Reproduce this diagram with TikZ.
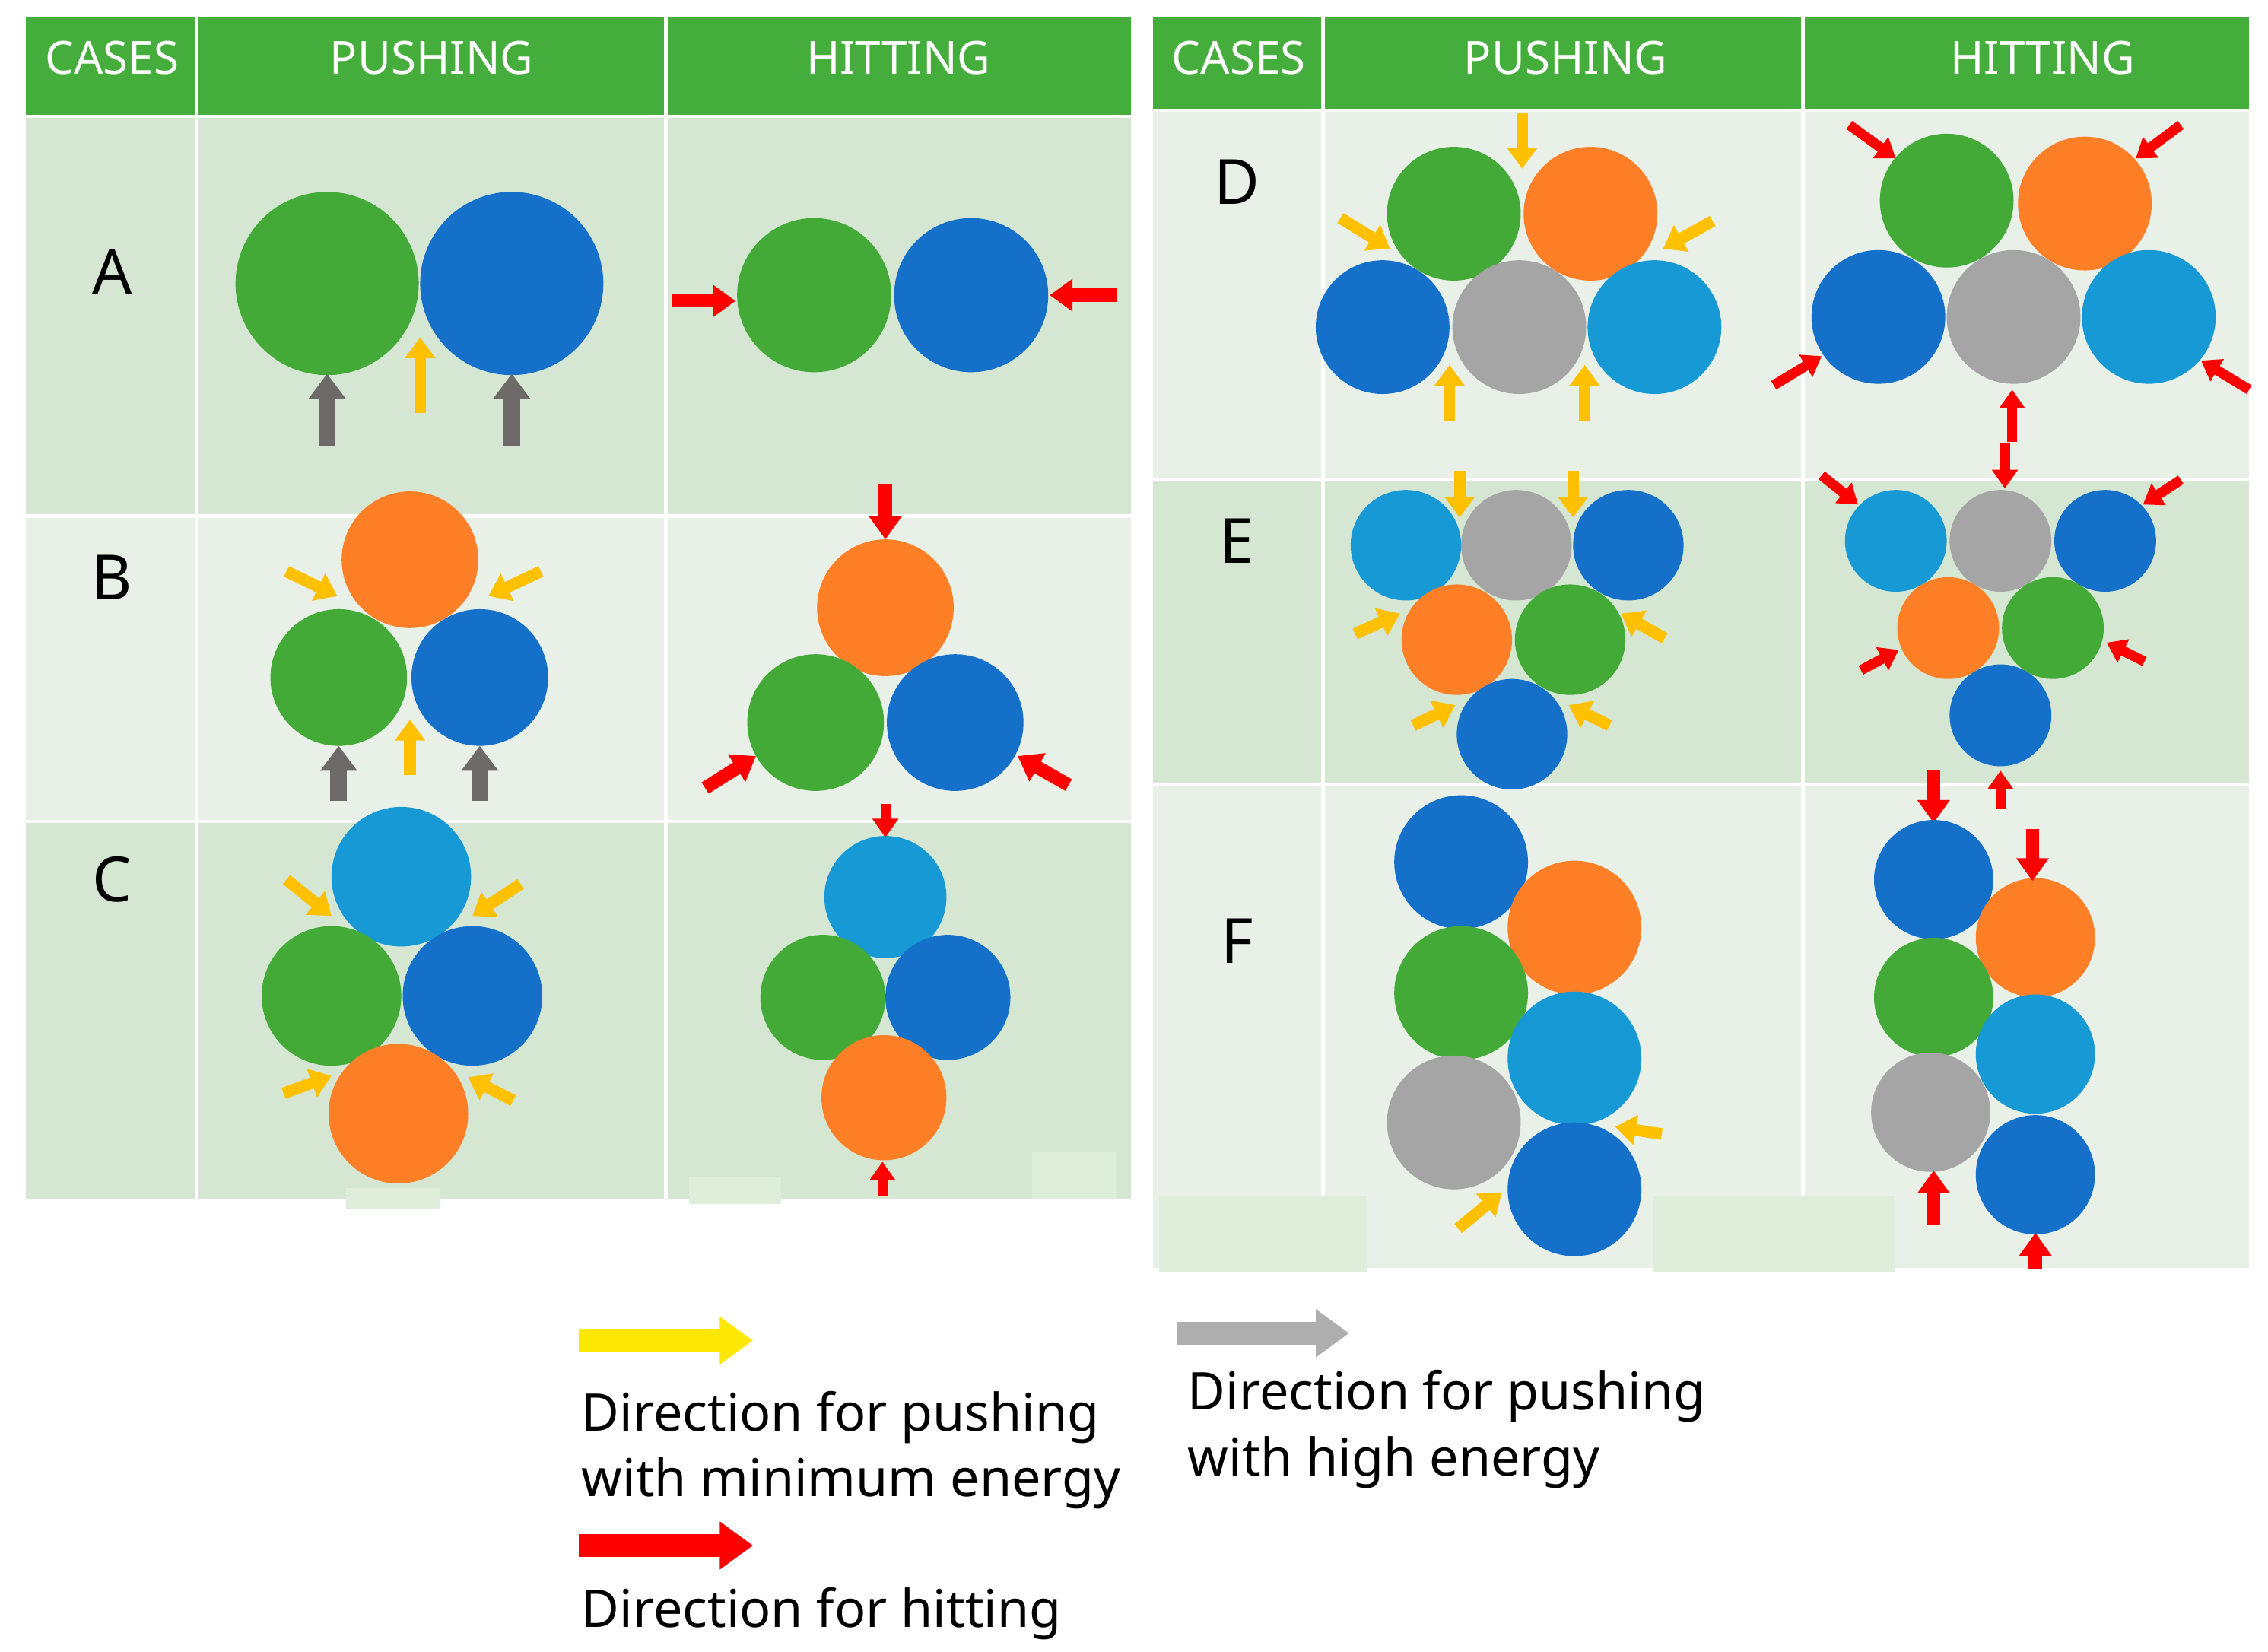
\documentclass[tikz,border=0pt]{standalone}
\usepackage{fontspec}
\setmainfont{Noto Sans}
\usetikzlibrary{arrows.meta}
\definecolor{hg}{RGB}{68,173,60}
\definecolor{rd}{RGB}{213,230,211}
\definecolor{rl}{RGB}{232,240,232}
\definecolor{pp}{RGB}{222,238,218}
\definecolor{cg}{RGB}{67,170,56}
\definecolor{cb}{RGB}{20,112,200}
\definecolor{co}{RGB}{255,127,39}
\definecolor{cl}{RGB}{23,153,214}
\definecolor{cy}{RGB}{165,165,165}
\definecolor{ay}{RGB}{255,192,0}
\definecolor{ag}{RGB}{110,106,106}
\definecolor{ar}{RGB}{255,0,0}
\newcommand\Ball[5]{\node[circle,fill=#2,minimum size=#3*0.7pt,inner sep=0pt] (#1) at (#4,#5) {};}
\newcommand\Arr[5]{\draw[#1] (#2,#3) -- (#4,#5);}
\tikzset{
 ya/.style={ay,line width=2.8pt,-{Triangle[length=5pt,width=7pt]}},
 ga/.style={ag,line width=4pt,-{Triangle[length=6pt,width=8.5pt]}},
 ra/.style={ar,line width=3.2pt,-{Triangle[length=5.5pt,width=7.5pt]}},
 rs/.style={ar,line width=2.4pt,-{Triangle[length=4.5pt,width=6pt]}},
 hd/.style={white,font=\bfseries\fontsize{11}{13}\selectfont},
 cs/.style={font=\bfseries\fontsize{15}{17}\selectfont},
 lg/.style={anchor=west,font=\fontsize{12.5}{15}\selectfont},
 sep/.style={white,line width=0.8pt}
}
\begin{document}
\begin{tikzpicture}[x=0.35pt,y=-0.35pt]
\useasboundingbox (0,0) rectangle (1560,1136);
% left table
\fill[hg] (18,12) rectangle (778,80);
\fill[rd] (18,80) rectangle (778,355);
\fill[rl] (18,355) rectangle (778,565);
\fill[rd] (18,565) rectangle (778,825);
\foreach \x in {135,458} \draw[sep] (\x,12) -- (\x,825);
\foreach \y in {80,355,565} \draw[sep] (18,\y) -- (778,\y);
\fill[pp] (238,817) rectangle (303,832);
\fill[pp] (474,810) rectangle (537,828);
\fill[pp] (710,792) rectangle (768,825);
\node[hd] (h1) at (77,40) {CASES};
\node[hd] (h2) at (297,40) {PUSHING};
\node[hd] (h3) at (618,40) {HITTING};
\node[cs] (lA) at (77,187) {A};
\node[cs] (lB) at (77,397) {B};
\node[cs] (lC) at (77,605) {C};
% right table
\fill[hg] (793,12) rectangle (1547,76);
\fill[rl] (793,76) rectangle (1547,330);
\fill[rd] (793,330) rectangle (1547,540);
\fill[rl] (793,540) rectangle (1547,872);
\foreach \x in {910,1240} \draw[sep] (\x,12) -- (\x,872);
\foreach \y in {76,330,540} \draw[sep] (793,\y) -- (1547,\y);
\fill[pp] (797,823) rectangle (940,875);
\fill[pp] (1137,823) rectangle (1303,875);
\node[hd] (h4) at (852,40) {CASES};
\node[hd] (h5) at (1077,40) {PUSHING};
\node[hd] (h6) at (1405,40) {HITTING};
\node[cs] (lD) at (851,125) {D};
\node[cs] (lE) at (851,372) {E};
\node[cs] (lF) at (851,647) {F};
% A
\Ball{a1}{cg}{63}{225}{195}\Ball{a2}{cb}{63}{352}{195}
\Arr{ga}{225}{307}{225}{257}\Arr{ga}{352}{307}{352}{257}\Arr{ya}{289}{284}{289}{232}
\Ball{a3}{cg}{53}{560}{203}\Ball{a4}{cb}{53}{668}{203}
\Arr{ra}{462}{207}{506}{207}\Arr{ra}{768}{203}{722}{203}
% B
\Ball{b1}{co}{47}{282}{385}\Ball{b2}{cg}{47}{233}{466}\Ball{b3}{cb}{47}{330}{466}
\Arr{ya}{197}{393}{232}{410}\Arr{ya}{372}{393}{336}{410}
\Arr{ga}{233}{551}{233}{513}\Arr{ga}{330}{551}{330}{513}\Arr{ya}{282}{533}{282}{495}
\Ball{b4}{co}{47}{609}{418}\Ball{b5}{cg}{47}{561}{497}\Ball{b6}{cb}{47}{657}{497}
\Arr{ra}{609}{333}{609}{371}\Arr{ra}{485}{542}{520}{520}\Arr{ra}{735}{540}{700}{520}
% C
\Ball{c1}{cl}{48}{276}{603}\Ball{c2}{cg}{48}{228}{685}\Ball{c3}{cb}{48}{325}{685}\Ball{c4}{co}{48}{274}{766}
\Arr{ya}{197}{605}{228}{630}\Arr{ya}{358}{608}{325}{630}
\Arr{ya}{195}{752}{228}{740}\Arr{ya}{353}{757}{322}{741}
\Ball{c5}{cl}{42}{609}{617}\Ball{c6}{cg}{43}{566}{686}\Ball{c7}{cb}{43}{652}{686}\Ball{c8}{co}{43}{608}{755}
\Arr{rs}{609}{553}{609}{576}\Arr{rs}{607}{823}{607}{799}
% D
\Ball{d1}{cg}{46}{1000}{147}\Ball{d2}{co}{46}{1094}{147}
\Ball{d3}{cb}{46}{951}{225}\Ball{d4}{cy}{46}{1045}{225}\Ball{d5}{cl}{46}{1138}{225}
\Arr{ya}{1047}{78}{1047}{116}\Arr{ya}{922}{150}{956}{171}\Arr{ya}{1178}{152}{1144}{171}
\Arr{ya}{997}{290}{997}{251}\Arr{ya}{1090}{290}{1090}{251}
\Ball{d6}{cg}{46}{1339}{138}\Ball{d7}{co}{46}{1434}{140}
\Ball{d8}{cb}{46}{1292}{218}\Ball{d9}{cy}{46}{1385}{218}\Ball{d10}{cl}{46}{1478}{218}
\Arr{rs}{1272}{86}{1304}{109}\Arr{rs}{1500}{86}{1469}{109}
\Arr{rs}{1220}{265}{1253}{245}\Arr{rs}{1547}{268}{1514}{248}
\Arr{rs}{1384}{304}{1384}{268}\Arr{rs}{1379}{305}{1379}{336}
% E
\Ball{e1}{cl}{38}{967}{375}\Ball{e2}{cy}{38}{1043}{375}\Ball{e3}{cb}{38}{1120}{375}
\Ball{e4}{co}{38}{1002}{440}\Ball{e5}{cg}{38}{1080}{440}\Ball{e6}{cb}{38}{1040}{505}
\Arr{ya}{1004}{324}{1004}{356}\Arr{ya}{1082}{324}{1082}{356}
\Arr{ya}{932}{436}{963}{422}\Arr{ya}{1145}{439}{1115}{422}
\Arr{ya}{972}{499}{1001}{485}\Arr{ya}{1107}{499}{1079}{485}
\Ball{e7}{cl}{35}{1304}{372}\Ball{e8}{cy}{35}{1376}{372}\Ball{e9}{cb}{35}{1448}{372}
\Ball{e10}{co}{35}{1340}{432}\Ball{e11}{cg}{35}{1412}{432}\Ball{e12}{cb}{35}{1376}{492}
\Arr{rs}{1253}{327}{1278}{347}\Arr{rs}{1500}{330}{1474}{347}
\Arr{rs}{1280}{461}{1306}{447}\Arr{rs}{1475}{455}{1449}{442}
\Arr{ra}{1330}{530}{1330}{566}\Arr{rs}{1376}{556}{1376}{530}
% F
\Ball{f1}{cb}{46}{1005}{593}\Ball{f2}{co}{46}{1083}{638}\Ball{f3}{cg}{46}{1005}{683}
\Ball{f4}{cl}{46}{1083}{728}\Ball{f5}{cy}{46}{1000}{772}\Ball{f6}{cb}{46}{1083}{818}
\Arr{ya}{1143}{780}{1111}{775}\Arr{ya}{1003}{845}{1033}{820}
\Ball{f7}{cb}{41}{1330}{605}\Ball{f8}{co}{41}{1400}{645}\Ball{f9}{cg}{41}{1330}{686}
\Ball{f10}{cl}{41}{1400}{725}\Ball{f11}{cy}{41}{1328}{765}\Ball{f12}{cb}{41}{1400}{808}
\Arr{ra}{1398}{570}{1398}{606}\Arr{ra}{1330}{842}{1330}{805}\Arr{ra}{1400}{873}{1400}{848}
% legend
\draw[yellow!90!orange,line width=5.5pt,-{Triangle[length=8pt,width=11pt]}] (398,922) -- (518,922);
\draw[ar,line width=5.5pt,-{Triangle[length=8pt,width=11pt]}] (398,1063) -- (518,1063);
\draw[cy!90,line width=5.5pt,-{Triangle[length=8pt,width=11pt]}] (810,917) -- (928,917);
\node[lg] (t1) at (390,975) {Direction for pushing};
\node[lg] (t2) at (390,1020) {with minimum energy};
\node[lg] (t3) at (390,1110) {Direction for hitting};
\node[lg] (t4) at (807,960) {Direction for pushing};
\node[lg] (t5) at (807,1006) {with high energy};
\end{tikzpicture}
\end{document}
